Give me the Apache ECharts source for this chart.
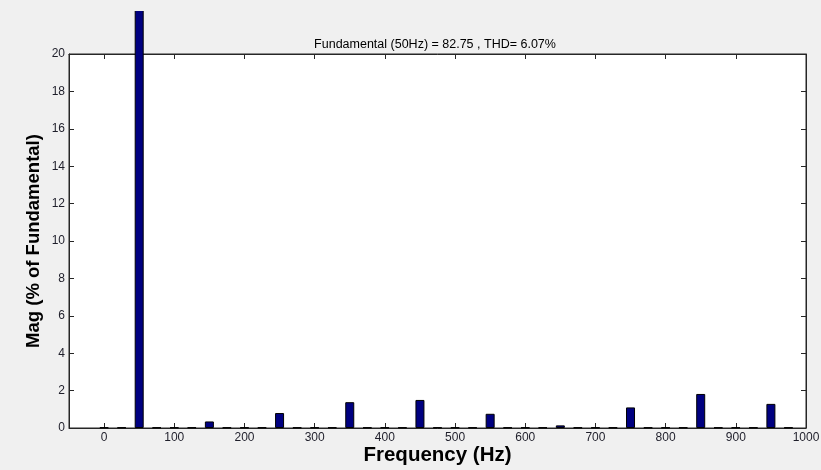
<!DOCTYPE html>
<html>
<head>
<meta charset="utf-8">
<script src="https://cdn.jsdelivr.net/npm/echarts@6/dist/echarts.min.js"></script>
<style>html,body{margin:0;padding:0;background:#f0f0f0;overflow:hidden;}#c{width:821px;height:470px;}</style>
</head>
<body>
<div id="c"></div>
<script>
var titleText = 'Fundamental (50Hz) = 82.75 , THD= 6.07%';
var xName = 'Frequency (Hz)';
var yName = 'Mag (% of Fundamental)';
var freqs = [0,25,50,75,100,125,150,175,200,225,250,275,300,325,350,375,400,425,450,475,500,525,550,575,600,625,650,675,700,725,750,775,800,825,850,875,900,925,950,975];
var mags  = [0.03,0.03,100,0.03,0.03,0.03,0.35,0.03,0.03,0.03,0.8,0.03,0.03,0.03,1.38,0.03,0.03,0.03,1.5,0.03,0.03,0.03,0.76,0.03,0.03,0.03,0.14,0.03,0.03,0.03,1.1,0.03,0.03,0.03,1.82,0.03,0.03,0.03,1.29,0.03];
var xTicks = [0,100,200,300,400,500,600,700,800,900,1000];

var data = freqs.map(function(f,i){return [f, mags[i]];});
var chart = echarts.init(document.getElementById('c'), null, {renderer:'canvas', width:821, height:470});
var labelColor = '#1e1e2a';
var lineColor = '#262626';
chart.setOption({
  backgroundColor:'#f0f0f0',
  animation:false,
  title:{text:titleText,left:430,top:33,textAlign:'center',textStyle:{fontFamily:'Liberation Sans',fontSize:12.5,fontWeight:'normal',color:'#000'}},
  grid:{left:69,right:15,top:54,bottom:42,show:true,backgroundColor:'#fff',borderColor:lineColor,borderWidth:1,containLabel:false,outerBoundsMode:'none'},
  graphic:[{type:'rect',z:100,shape:{x:0,y:0,width:821,height:11},style:{fill:'#f0f0f0'}}],
  xAxis:[{
    type:'value',min:-50,max:1000,position:'bottom',
    name:xName,nameLocation:'middle',nameGap:17,nameMoveOverlap:false,
    nameTextStyle:{fontFamily:'Liberation Sans',fontSize:20.5,fontWeight:'bold',color:'#000'},
    axisLine:{show:true,onZero:false,lineStyle:{color:lineColor}},
    axisTick:{show:true,inside:true,length:5,customValues:xTicks,lineStyle:{color:lineColor}},
    axisLabel:{customValues:xTicks,margin:4,fontFamily:'Liberation Sans',fontSize:12,color:labelColor,formatter:function(v){return String(v);}},
    splitLine:{show:false}
  },{
    type:'value',min:-50,max:1000,position:'top',
    axisLine:{show:true,onZero:false,lineStyle:{color:lineColor}},
    axisTick:{show:true,inside:true,length:5,customValues:xTicks,lineStyle:{color:lineColor}},
    axisLabel:{show:false},splitLine:{show:false}
  }],
  yAxis:[{
    type:'value',min:0,max:20,interval:2,position:'left',
    name:yName,nameLocation:'middle',nameGap:26,nameMoveOverlap:false,
    nameTextStyle:{fontFamily:'Liberation Sans',fontSize:18.5,fontWeight:'bold',color:'#000'},
    axisLine:{show:true,onZero:false,lineStyle:{color:lineColor}},
    axisTick:{show:true,inside:true,length:5,lineStyle:{color:lineColor}},
    axisLabel:{margin:4,fontFamily:'Liberation Sans',fontSize:12,color:labelColor},
    splitLine:{show:false}
  },{
    type:'value',min:0,max:20,interval:2,position:'right',
    axisLine:{show:true,onZero:false,lineStyle:{color:lineColor}},
    axisTick:{show:true,inside:true,length:5,lineStyle:{color:lineColor}},
    axisLabel:{show:false},splitLine:{show:false}
  }],
  series:[{
    type:'bar',xAxisIndex:0,yAxisIndex:0,data:data,barWidth:9,clip:false,
    itemStyle:{color:'#000080',borderColor:'#000',borderWidth:1}
  }]
});
</script>
</body>
</html>
